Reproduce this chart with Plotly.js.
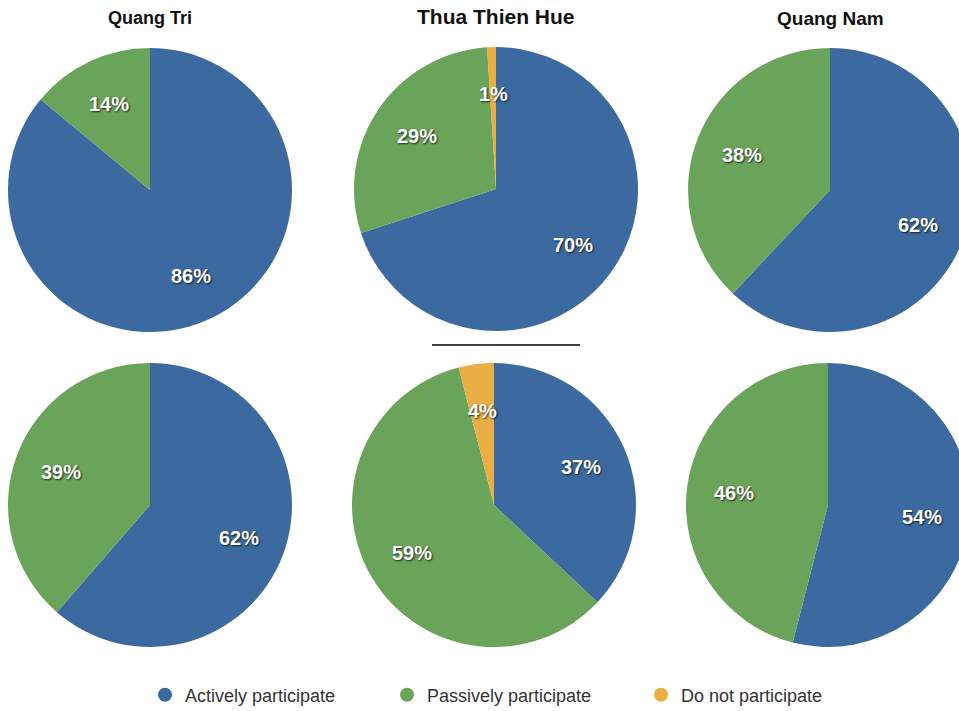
<!DOCTYPE html>
<html>
<head>
<meta charset="utf-8">
<script src="https://cdn.plot.ly/plotly-3.0.1.min.js"></script>
<style>
html, body { margin: 0; padding: 0; background: #fff; overflow: hidden; width: 959px; height: 711px; }
#chart { width: 1000px; height: 730px; }
</style>
</head>
<body>
<div id="chart"></div>
<script>
// ---- data ----
var categories = ["Actively participate", "Passively participate", "Do not participate"];
var provinces = ["Quang Tri", "Thua Thien Hue", "Quang Nam"];
var topRowValues = [
  [86, 14, 0],   // Quang Tri
  [70, 29, 1],   // Thua Thien Hue
  [62, 38, 0]    // Quang Nam
];
var bottomRowValues = [
  [62, 39, 0],   // Quang Tri
  [37, 59, 4],   // Thua Thien Hue
  [54, 46, 0]    // Quang Nam
];
var colors = ["#3c6aa0", "#6aa35a", "#eaae45"];

// ---- layout geometry (pixels; canvas is cropped by the 959x711 window) ----
var W = 1000, H = 730, R = 142;
var centersTop = [[150, 190], [496, 189], [830, 190]];
var centersBottom = [[150, 505], [494, 505], [828, 505]];
var titleSizes = [18, 21, 19];
var titleY = [18, 16, 18];
var labelRadius = 0.67;
var labelFont = {
  family: 'Liberation Sans, Arial, sans-serif',
  size: 20,
  color: '#ffffff',
  weight: 'bold',
  shadow: '1px 1px 2px rgba(0,0,0,0.75)'
};

function domainFor(c) {
  return {
    x: [(c[0] - R) / W, (c[0] + R) / W],
    y: [1 - (c[1] + R) / H, 1 - (c[1] - R) / H]
  };
}

var traces = [];
var annotations = [];

function addPie(vals, center) {
  traces.push({
    type: 'pie',
    labels: categories,
    values: vals,
    sort: false,
    direction: 'clockwise',
    rotation: 0,
    domain: domainFor(center),
    marker: { colors: colors, line: { width: 0 } },
    textinfo: 'none',
    hoverinfo: 'none',
    showlegend: false
  });
  // percentage labels placed at each slice's mid-angle (derived from the values)
  var total = vals.reduce(function (a, b) { return a + b; }, 0);
  var cum = 0;
  vals.forEach(function (v) {
    if (v > 0) {
      var ang = 2 * Math.PI * (cum + v / 2) / total;
      var px = center[0] + labelRadius * R * Math.sin(ang);
      var py = center[1] - labelRadius * R * Math.cos(ang);
      annotations.push({
        text: v + '%',
        xref: 'paper', yref: 'paper',
        x: px / W, y: 1 - py / H,
        xanchor: 'center', yanchor: 'middle',
        showarrow: false,
        font: labelFont
      });
    }
    cum += v;
  });
}
for (var i = 0; i < 3; i++) addPie(topRowValues[i], centersTop[i]);
for (var j = 0; j < 3; j++) addPie(bottomRowValues[j], centersBottom[j]);

// legend entries (circle markers)
var legendWidths = [197, 209, 160];
categories.forEach(function (cat, k) {
  traces.push({
    type: 'scatter',
    x: [null], y: [null],
    mode: 'markers',
    name: cat,
    marker: { color: colors[k], size: 14, symbol: 'circle' },
    legendwidth: legendWidths[k],
    hoverinfo: 'none',
    showlegend: true
  });
});

provinces.forEach(function (p, k) {
  var d = domainFor(centersTop[k]);
  annotations.push({
    text: '<b>' + p + '</b>',
    xref: 'paper', yref: 'paper',
    x: (d.x[0] + d.x[1]) / 2,
    y: 1 - titleY[k] / H,
    xanchor: 'center', yanchor: 'middle',
    showarrow: false,
    font: { family: 'Liberation Sans, Arial, sans-serif', size: titleSizes[k], color: '#111111' }
  });
});

var layout = {
  width: W,
  height: H,
  margin: { l: 0, r: 0, t: 0, b: 0 },
  paper_bgcolor: '#ffffff',
  plot_bgcolor: '#ffffff',
  xaxis: { visible: false, range: [0, 1] },
  yaxis: { visible: false, range: [0, 1] },
  showlegend: true,
  legend: {
    orientation: 'h',
    x: 0.145, xanchor: 'left',
    y: 1 - 695 / H, yanchor: 'middle',
    font: { family: 'Liberation Sans, Arial, sans-serif', size: 18, color: '#333333' },
    bgcolor: 'rgba(0,0,0,0)',
    itemclick: false, itemdoubleclick: false
  },
  annotations: annotations,
  shapes: [{
    type: 'line', xref: 'paper', yref: 'paper',
    x0: 432 / W, x1: 580 / W, y0: 1 - 345 / H, y1: 1 - 345 / H,
    line: { color: '#000000', width: 1.5 }
  }]
};

Plotly.newPlot('chart', traces, layout, { staticPlot: true, displayModeBar: false });
</script>
</body>
</html>
